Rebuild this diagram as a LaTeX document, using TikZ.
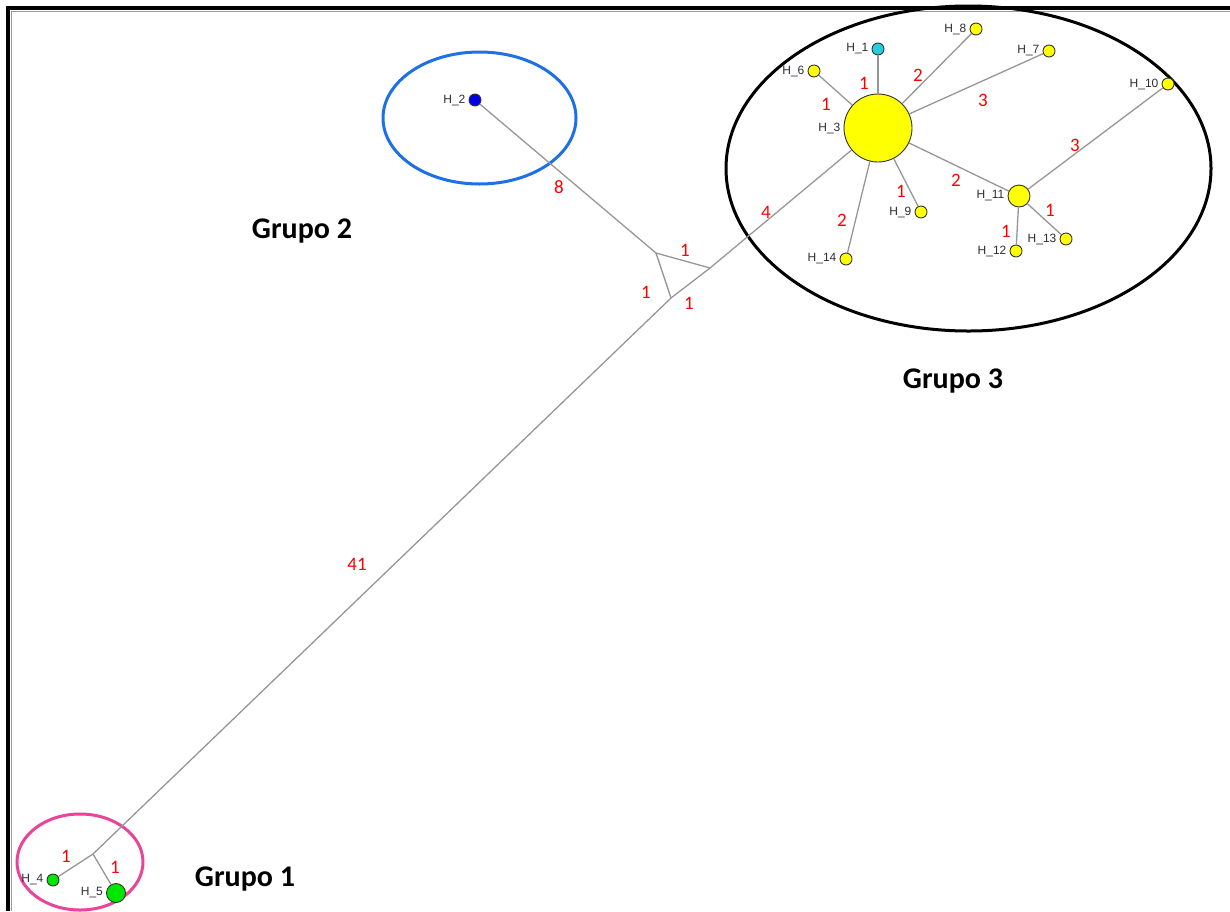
\documentclass[tikz,border=0pt]{standalone}
\usepackage{fontspec}
\setmainfont{Carlito}
\newfontfamily\hfont{Liberation Sans}
\usetikzlibrary{shapes.geometric}
\definecolor{edgegray}{RGB}{150,150,150}
\definecolor{hyellow}{RGB}{255,255,0}
\definecolor{hgreen}{RGB}{0,230,0}
\definecolor{hblue}{RGB}{0,0,230}
\definecolor{hcyan}{RGB}{40,205,220}
\definecolor{gpink}{RGB}{232,68,154}
\definecolor{gblue}{RGB}{30,112,230}
\definecolor{numred}{RGB}{255,0,0}
\definecolor{labgray}{RGB}{45,45,55}
\tikzset{
  hap/.style={circle,draw=black!80,line width=0.9pt,inner sep=0pt,minimum size=#1},
  hap/.default=12pt,
  hl/.style={font=\hfont\fontsize{12}{12}\selectfont,text=labgray,inner sep=1pt},
  edge/.style={draw=edgegray,line width=1.3pt},
  num/.style={font=\fontsize{19}{20}\selectfont,text=numred,inner sep=0pt},
  grp/.style={font=\bfseries\fontsize{30}{32}\selectfont,inner sep=0pt},
  ring/.style={draw,line width=3pt,ellipse,inner sep=0pt}
}
\begin{document}
\begin{tikzpicture}[x=1pt,y=-1pt]
\useasboundingbox (0,0) rectangle (1230,911);
% frame
\draw[line width=3.5pt,black] (8,911) -- (8,8) -- (1230,8);
\draw[line width=0.8pt,black!40] (11,911) -- (11,11) -- (1230,11);

% group ellipses
\node[ring,draw=gpink,minimum width=126pt,minimum height=96pt] (E1) at (80,862) {};
\node[ring,draw=gblue,minimum width=193pt,minimum height=132pt] (E2) at (479.5,118) {};
\node[ring,draw=black,minimum width=485pt,minimum height=325pt] (E3) at (968.5,168.5) {};

% junction coordinates
\coordinate (D) at (93,854);
\coordinate (A) at (656,253);
\coordinate (B) at (710,268);
\coordinate (C) at (671,298);

% haplotype nodes
\node[hap=68pt,fill=hyellow] (H3) at (878,128) {};
\node[hap,fill=hcyan] (H1) at (878,49) {};
\node[hap,fill=hyellow] (H8) at (976,29) {};
\node[hap,fill=hyellow] (H7) at (1049,51) {};
\node[hap,fill=hyellow] (H10) at (1168,84) {};
\node[hap,fill=hyellow] (H6) at (814,71) {};
\node[hap=22pt,fill=hyellow] (H11) at (1019,196) {};
\node[hap,fill=hyellow] (H9) at (921,212) {};
\node[hap,fill=hyellow] (H14) at (846,259) {};
\node[hap,fill=hyellow] (H12) at (1016,251) {};
\node[hap,fill=hyellow] (H13) at (1066,239) {};
\node[hap,fill=hblue] (H2) at (475,100) {};
\node[hap,fill=hgreen] (H4) at (53,880) {};
\node[hap=19pt,fill=hgreen] (H5) at (116,893) {};

% edges
\draw[edge] (H2) -- (A);
\draw[edge] (A) -- (B);
\draw[edge] (A) -- (C);
\draw[edge] (D) -- (C);
\draw[edge] (C) -- (B);
\draw[edge] (B) -- (H3);
\draw[edge] (D) -- (H4);
\draw[edge] (D) -- (H5);
\draw[edge] (H3) -- (H1);
\draw[edge] (H3) -- (H8);
\draw[edge] (H3) -- (H7);
\draw[edge] (H3) -- (H6);
\draw[edge] (H3) -- (H9);
\draw[edge] (H3) -- (H14);
\draw[edge] (H3) -- (H11);
\draw[edge] (H11) -- (H10);
\draw[edge] (H11) -- (H12);
\draw[edge] (H11) -- (H13);

% haplotype labels
\node[hl,anchor=east] (L1) at ([xshift=-2pt]H1.west) {H\_1};
\node[hl,anchor=east] (L8) at ([xshift=-2pt]H8.west) {H\_8};
\node[hl,anchor=east] (L7) at ([xshift=-2pt]H7.west) {H\_7};
\node[hl,anchor=east] (L10) at ([xshift=-2pt]H10.west) {H\_10};
\node[hl,anchor=east] (L6) at ([xshift=-2pt]H6.west) {H\_6};
\node[hl,anchor=east] (L3) at ([xshift=-2pt]H3.west) {H\_3};
\node[hl,anchor=east] (L11) at ([xshift=-2pt]H11.west) {H\_11};
\node[hl,anchor=east] (L9) at ([xshift=-2pt]H9.west) {H\_9};
\node[hl,anchor=east] (L14) at ([xshift=-2pt]H14.west) {H\_14};
\node[hl,anchor=east] (L12) at ([xshift=-2pt]H12.west) {H\_12};
\node[hl,anchor=east] (L13) at ([xshift=-2pt]H13.west) {H\_13};
\node[hl,anchor=east] (L2) at ([xshift=-2pt]H2.west) {H\_2};
\node[hl,anchor=east] (L4) at ([xshift=-2pt]H4.west) {H\_4};
\node[hl,anchor=east] (L5) at ([xshift=-2pt]H5.west) {H\_5};

% mutation counts
\node[num] (n8) at (559,187) {8};
\node[num] (nAB) at (685,250) {1};
\node[num] (nAC) at (646,292) {1};
\node[num] (nCB) at (689,303) {1};
\node[num] (n4) at (766,212) {4};
\node[num] (n41) at (357,564) {41};
\node[num] (n31) at (864,83) {1};
\node[num] (n38) at (918,75) {2};
\node[num] (n37) at (983,100) {3};
\node[num] (n36) at (826,104) {1};
\node[num] (n39) at (901,191) {1};
\node[num] (n311) at (956,180) {2};
\node[num] (n314) at (842,220) {2};
\node[num] (n1110) at (1075,145) {3};
\node[num] (n1112) at (1006,231) {1};
\node[num] (n1113) at (1050,210) {1};
\node[num] (n4d) at (66,856) {1};
\node[num] (n5d) at (115,867) {1};

% group titles
\node[grp] (G1) at (245,879) {Grupo 1};
\node[grp] (G2) at (302,231) {Grupo 2};
\node[grp] (G3) at (953,381) {Grupo 3};
\end{tikzpicture}
\end{document}
